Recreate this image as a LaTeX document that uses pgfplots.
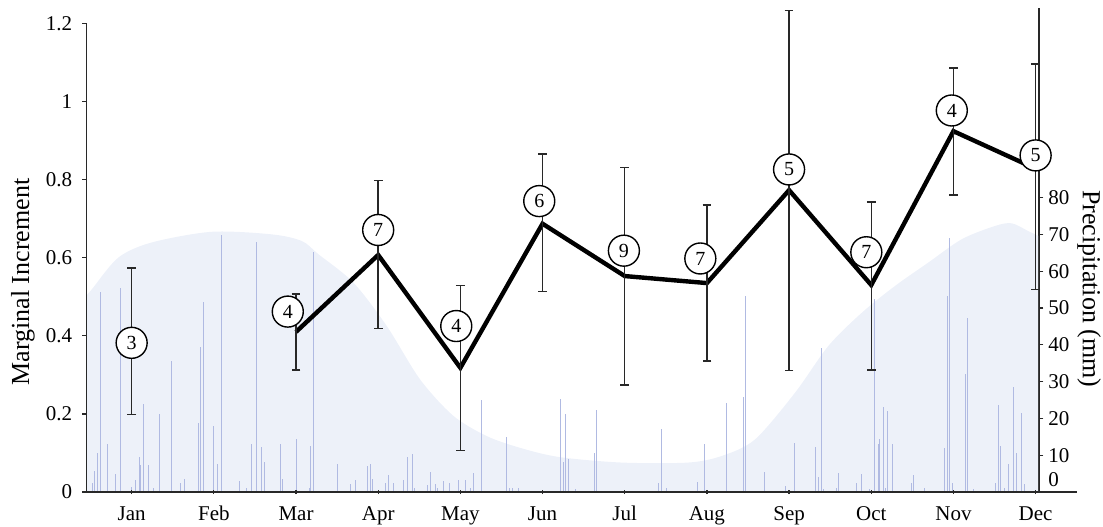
\documentclass[border=0pt]{standalone}
\usepackage{fontspec}
\setmainfont{Liberation Serif}
\usepackage{pgfplots}
\pgfplotsset{compat=1.18}
\definecolor{precfill}{RGB}{237,241,249}
\definecolor{precbar}{RGB}{176,186,226}
\definecolor{axgray}{RGB}{40,40,40}

\pgfplotstableread{
m    v      ep     em
3    0.410  0.097  0.098
4    0.607  0.191  0.188
5    0.318  0.211  0.212
6    0.687  0.178  0.174
7    0.553  0.278  0.279
8    0.535  0.200  0.200
9    0.773  0.460  0.462
10   0.530  0.213  0.218
11   0.924  0.162  0.163
12   0.828  0.268  0.309
}\mainline

\pgfplotstableread{
m    v      ep     em
1    0.3865 0.1875 0.1875
}\janpoint

\pgfplotstableread{
m     y      n
1.00  0.382  3
2.90  0.462  4
4.00  0.671  7
4.95  0.425  4
5.96  0.745  6
6.99  0.618  9
7.92  0.598  7
9.00  0.826  5
9.94  0.614  7
10.98 0.977  4
12.00 0.862  5
}\counts

\pgfplotstableread{
m     p
0.52  2.4
0.55  5.7
0.58  10.7
0.62  54.3
0.71  13.0
0.80  4.8
0.87  55.3
1.00  1.4
1.05  3.2
1.09  9.6
1.11  7.3
1.15  23.8
1.21  7.3
1.26  1.0
1.34  21.3
1.49  35.7
1.59  2.4
1.64  3.4
1.81  18.7
1.84  39.4
1.87  51.7
1.99  17.8
2.05  7.5
2.09  69.7
2.31  3.0
2.40  1.0
2.46  13.1
2.52  67.9
2.58  12.2
2.62  8.2
2.81  13.1
2.84  3.4
3.00  14.3
3.16  1.0
3.18  12.5
3.21  65.3
3.50  7.5
3.66  2.1
3.72  3.2
3.87  7.1
3.91  7.7
3.93  3.6
4.09  2.5
4.12  4.5
4.19  2.5
4.31  3.2
4.35  9.5
4.41  10.2
4.44  1.0
4.60  1.8
4.63  5.4
4.69  2.3
4.72  1.0
4.79  3.0
4.87  2.4
4.97  3.2
5.06  3.2
5.12  1.0
5.16  5.1
5.26  24.9
5.56  15.0
5.60  1.0
5.63  1.0
5.70  1.0
6.22  25.4
6.25  8.2
6.28  21.1
6.31  9.1
6.40  0.8
6.63  10.5
6.66  22.3
7.41  2.5
7.45  17.2
7.50  1.0
7.88  2.7
7.97  13.1
8.23  24.1
8.44  25.8
8.47  53.3
8.70  5.4
8.95  1.6
9.06  13.4
9.32  12.2
9.35  4.2
9.39  39.2
9.42  0.8
9.57  1.2
9.60  5.1
9.82  2.5
9.88  5.0
9.98  0.8
10.04 52.4
10.08 13.0
10.10 14.3
10.14 23.2
10.17 1.0
10.20 22.0
10.26 13.0
10.48 2.5
10.51 4.5
10.64 1.0
10.89 12.0
10.92 53.3
10.95 68.9
10.99 2.5
11.14 32.0
11.17 47.4
11.24 0.8
11.51 2.5
11.54 23.6
11.57 12.5
11.62 1.0
11.67 7.5
11.73 28.5
11.76 10.5
11.83 21.6
11.86 2.1
}\rain

\begin{document}
\begin{tikzpicture}
\useasboundingbox (-43.35pt,-17pt) rectangle (508.15pt,246pt);
% precipitation axis (drawn first, underneath)
\begin{axis}[
  at={(0pt,0pt)}, anchor=south west,
  scale only axis, width=476.15pt, height=242pt,
  xmin=0.453, xmax=12.037, ymin=0, ymax=131.5,
  axis x line=none, axis y line*=right,
  axis line style={-, draw=axgray, line width=0.65pt},
  ytick={10,20,30,40,50,60,70,80},
  extra y ticks={0},
  extra y tick style={yticklabel style={yshift=6pt}},
  tick align=outside, major tick length=2.2pt,
  tick style={draw=axgray, line width=0.6pt},
  /pgf/number format/assume math mode=true,
  tick label style={font=\fontsize{10.5}{12}\selectfont, text=black},
  yticklabel style={xshift=-1pt},
  ylabel={Precipitation (mm)},
  every axis y label/.style={at={(axis description cs:1.0525,0.42)}, anchor=center, rotate=-90, font=\fontsize{13}{15}\selectfont},
]
\addplot[draw=none, fill=precfill, smooth, tension=0.5] coordinates {
(0.453,53.5) (0.513,55) (0.838,63.7) (1.244,67.8) (1.974,70.7) (2.704,70.0)
(3.069,68.2) (3.272,64.6) (3.697,56.9) (4.103,45.1) (4.508,30.6) (4.913,20.7)
(5.319,15.2) (5.725,12.0) (6.2,9.5) (6.961,8.0) (7.768,8.0) (8.178,9.8)
(8.583,14.3) (9.07,27.0) (9.475,39.7) (9.881,48.7) (10.286,56.0) (10.688,62.3)
(11.099,68.7) (11.504,72.3) (11.707,73.0) (11.905,70.9) (12.027,69.6)
} \closedcycle;
\addplot[ycomb, draw=precbar, line width=0.5pt, mark=none] table[x=m, y=p] {\rain};
\end{axis}

% marginal increment axis
\begin{axis}[
  at={(0pt,0pt)}, anchor=south west,
  scale only axis, width=495pt, height=234.3pt,
  xmin=0.453, xmax=12.5, ymin=0, ymax=1.2, clip=false,
  axis x line*=bottom, axis y line*=left,
  axis line style={-, draw=axgray, line width=0.65pt},
  xtick={1,2,3,4,5,6,7,8,9,10,11,12},
  xticklabels={Jan,Feb,Mar,Apr,May,Jun,Jul,Aug,Sep,Oct,Nov,Dec},
  ytick={0,0.2,0.4,0.6,0.8,1,1.2},
  yticklabels={0,0.2,0.4,0.6,0.8,1,1.2},
  tick align=outside, xtick align=center, major tick length=2.2pt,
  tick style={draw=axgray, line width=0.6pt},
  /pgf/number format/assume math mode=true,
  tick label style={font=\fontsize{10.5}{12}\selectfont, text=black},
  xticklabel style={yshift=-2.5pt},
  yticklabel style={xshift=-1.5pt},
  ylabel={Marginal Increment},
  every axis y label/.style={at={(axis description cs:-0.0644,0.448)}, anchor=center, rotate=90, font=\fontsize{13}{15}\selectfont},
]
\addplot[black, line width=2.2pt, mark=none, line join=miter,
  error bars/.cd, y dir=both, y explicit,
  error bar style={line width=0.75pt, draw=axgray},
  error mark=-,
  error mark options={rotate=90, line width=0.75pt, mark size=2.2pt, draw=axgray}]
  table[x=m, y=v, y error plus=ep, y error minus=em] {\mainline};
\addplot[draw=none, mark=none,
  error bars/.cd, y dir=both, y explicit,
  error bar style={line width=0.75pt, draw=axgray},
  error mark=-,
  error mark options={rotate=90, line width=0.75pt, mark size=2.2pt, draw=axgray}]
  table[x=m, y=v, y error plus=ep, y error minus=em] {\janpoint};
\addplot[only marks, mark=none, nodes near coords, point meta=explicit symbolic,
  every node near coord/.style={circle, draw=black, fill=white, line width=0.7pt,
    minimum size=15.5pt, inner sep=0pt, anchor=center, text=black,
    font=\fontsize{10}{10}\selectfont}]
  table[x=m, y=y, meta=n] {\counts};
\end{axis}
\end{tikzpicture}
\end{document}
